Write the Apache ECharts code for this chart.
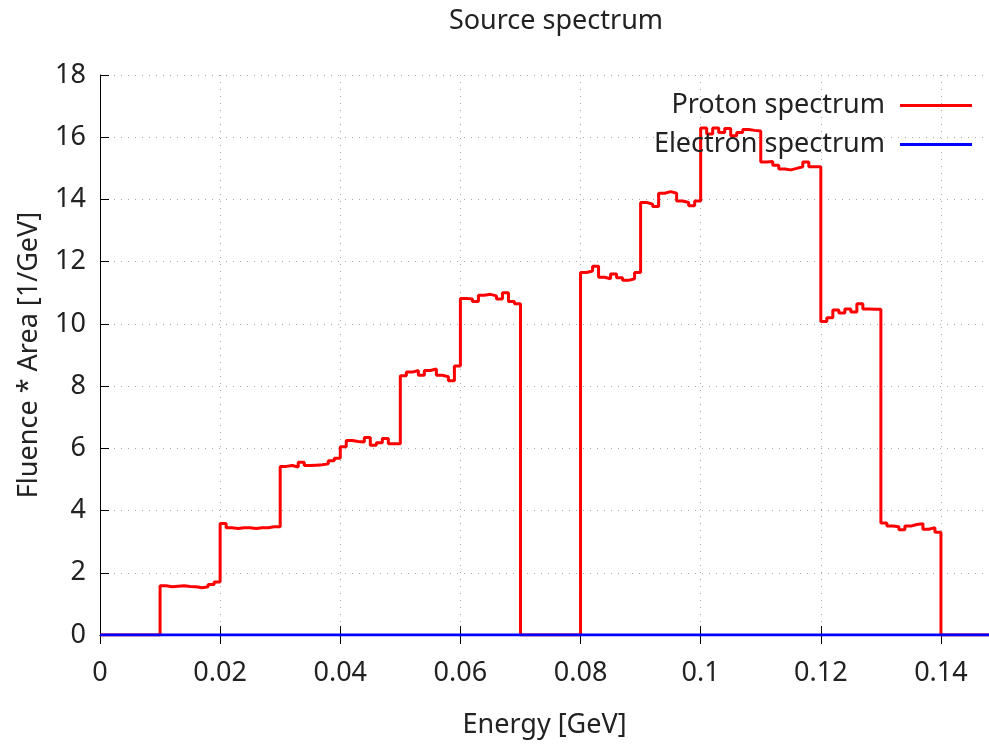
<!DOCTYPE html>
<html>
<head>
<meta charset="utf-8">
<script src="https://cdn.jsdelivr.net/npm/echarts@6/dist/echarts.min.js"></script>
<style>
  html, body { margin: 0; padding: 0; background: #fff; }
  #chart { width: 989px; height: 744px; }
</style>
</head>
<body>
<div id="chart"></div>
<script>
// bin width of the histogram (GeV), bins start at 0
var binWidth = 0.001;
var energyMax = 0.148;

// proton spectrum, one value per bin (fluence * area, 1/GeV)
var protonValues = [
  0, 0, 0, 0, 0, 0, 0, 0, 0, 0,
  1.58, 1.55, 1.57, 1.58, 1.56, 1.55, 1.52, 1.55, 1.62, 1.70,
  3.58, 3.45, 3.42, 3.45, 3.45, 3.42, 3.45, 3.45, 3.48, 3.48,
  5.42, 5.45, 5.40, 5.55, 5.45, 5.46, 5.47, 5.50, 5.60, 5.68,
  6.05, 6.25, 6.22, 6.20, 6.35, 6.10, 6.18, 6.32, 6.15, 6.15,
  8.33, 8.45, 8.50, 8.35, 8.50, 8.55, 8.35, 8.30, 8.17, 8.65,
  10.82, 10.80, 10.72, 10.92, 10.95, 10.90, 10.80, 11.00, 10.72, 10.65,
  0, 0, 0, 0, 0, 0, 0, 0, 0, 0,
  11.65, 11.70, 11.85, 11.50, 11.45, 11.60, 11.48, 11.40, 11.45, 11.65,
  13.90, 13.85, 13.77, 14.20, 14.25, 14.20, 13.95, 13.90, 13.80, 13.95,
  16.30, 16.10, 16.30, 16.15, 16.28, 16.05, 16.15, 16.25, 16.22, 16.20,
  15.20, 15.22, 15.10, 14.98, 14.95, 15.00, 15.05, 15.20, 15.05, 15.05,
  10.08, 10.20, 10.45, 10.35, 10.48, 10.38, 10.65, 10.48, 10.47, 10.47,
  3.60, 3.50, 3.48, 3.38, 3.50, 3.55, 3.58, 3.40, 3.45, 3.30,
  0, 0, 0, 0, 0, 0, 0, 0
];

// electron spectrum is zero over the whole range
var electronEnergy = [0, 0.148];
var electronValues = [0, 0];

var xTicks = [0, 0.02, 0.04, 0.06, 0.08, 0.1, 0.12, 0.14];
var yTicks = [0, 2, 4, 6, 8, 10, 12, 14, 16, 18];

var protonData = protonValues.map(function (v, i) {
  return [+(i * binWidth).toFixed(4), v];
});
protonData.push([energyMax, protonValues[protonValues.length - 1]]);

var electronData = electronEnergy.map(function (e, i) { return [e, electronValues[i]]; });

var font = "Noto Sans";
var fs = 27;
var txt = "#222";
var gridLine = { show: true, lineStyle: { color: "#aaaaaa", type: [1, 6], width: 1 } };

var chart = echarts.init(document.getElementById("chart"));
chart.setOption({
  animation: false,
  backgroundColor: "#fff",
  textStyle: { fontFamily: font },
  title: {
    text: "Source spectrum",
    left: 551, top: 3,
    textAlign: "center",
    textStyle: { fontFamily: font, fontSize: fs, fontWeight: "normal", color: txt }
  },
  legend: [
    {
      data: ["Proton spectrum"], right: 12, top: 87, align: "right",
      icon: "rect", itemWidth: 72, itemHeight: 3,
      textStyle: { fontFamily: font, fontSize: fs, color: txt, padding: [0, 10, 0, 0] }
    },
    {
      data: ["Electron spectrum"], right: 12, top: 126, align: "right",
      icon: "rect", itemWidth: 72, itemHeight: 3,
      textStyle: { fontFamily: font, fontSize: fs, color: txt, padding: [0, 10, 0, 0] }
    }
  ],
  grid: { left: 100, right: 0, top: 75, bottom: 107 },
  xAxis: [
    {
      type: "value", min: 0, max: energyMax, interval: 0.02,
      name: "Energy [GeV]", nameLocation: "middle", nameGap: 77,
      nameTextStyle: { fontFamily: font, fontSize: fs, color: txt },
      axisLine: { show: true, onZero: false, lineStyle: { color: "#000", width: 1 } },
      axisTick: { show: true, inside: true, length: 9, lineStyle: { color: "#000" } },
      axisLabel: {
        fontFamily: font, fontSize: fs, color: txt, margin: 25,
        showMaxLabel: false,
        formatter: function (v) {
          var hit = xTicks.filter(function (t) { return Math.abs(t - v) < 1e-9; });
          return hit.length ? String(hit[0]) : "";
        }
      },
      splitLine: gridLine
    },
    {
      type: "value", position: "top", min: 0, max: energyMax, interval: 0.02,
      axisLine: { show: true, lineStyle: { color: "#000", width: 1 } },
      axisTick: { show: true, inside: true, length: 9, lineStyle: { color: "#000" } },
      axisLabel: { show: false },
      splitLine: { show: false }
    }
  ],
  yAxis: {
    type: "value", min: yTicks[0], max: yTicks[yTicks.length - 1], interval: 2,
    name: "Fluence * Area [1/GeV]", nameLocation: "middle", nameGap: 57,
    nameTextStyle: { fontFamily: font, fontSize: fs, color: txt },
    axisLine: { show: true, lineStyle: { color: "#000", width: 1 } },
    axisTick: { show: true, inside: true, length: 9, lineStyle: { color: "#000" } },
    axisLabel: { fontFamily: font, fontSize: fs, color: txt, margin: 14 },
    splitLine: gridLine
  },
  series: [
    {
      name: "Proton spectrum", type: "line", step: "end",
      data: protonData, symbol: "none",
      itemStyle: { color: "#ff0000" },
      lineStyle: { color: "#ff0000", width: 3 }
    },
    {
      name: "Electron spectrum", type: "line",
      data: electronData, symbol: "none",
      itemStyle: { color: "#0000ff" },
      lineStyle: { color: "#0000ff", width: 3 }
    }
  ]
});
</script>
</body>
</html>
